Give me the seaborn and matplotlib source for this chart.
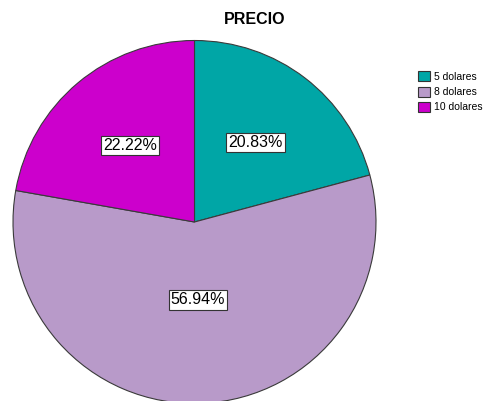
import numpy as np
import matplotlib.pyplot as plt
import matplotlib.patches as mpatches
import seaborn as sns

# Data
categories = ['5 dolares', '8 dolares', '10 dolares']
percentages = [20.83, 56.94, 22.22]
colors = ['#00A6A6', '#B89AC9', '#CC00CC']

sns.set_theme(style="white")
plt.rcParams['font.family'] = ['Liberation Sans', 'DejaVu Sans']
plt.rcParams['text.color'] = 'black'

W, H = 483, 401
fig = plt.figure(figsize=(W / 100, H / 100), dpi=100)

# pie axes placed in pixel space (pie is clipped slightly at the bottom)
cx, cy, r = 194.5, 222, 181.5
ax = fig.add_axes([(cx - r) / W, (H - cy - r) / H, 2 * r / W, 2 * r / H])
wedges, texts, autotexts = ax.pie(
    percentages, colors=colors, startangle=90, counterclock=False,
    autopct='%.2f%%', pctdistance=0.55,
    wedgeprops=dict(edgecolor='#3a3a3a', linewidth=0.8),
    textprops=dict(fontsize=11.5, color='black'))
ax.set_xlim(-1, 1)
ax.set_ylim(-1, 1)
ax.set_aspect('equal')
ax.axis('off')

for w, t, p in zip(wedges, autotexts, percentages):
    t.set_text(f'{p:.2f}%')
    if p > 50:
        mid = np.deg2rad((w.theta1 + w.theta2) / 2)
        t.set_position((0.43 * np.cos(mid), 0.43 * np.sin(mid)))
    t.set_bbox(dict(facecolor='white', edgecolor='#333333', linewidth=0.8, pad=1.5))

fig.text(255 / W, 1 - 20 / H, 'PRECIO', ha='center', va='center',
         fontsize=11.5, fontweight='bold', color='black')

handles = [mpatches.Patch(facecolor=c, edgecolor='#333333', linewidth=0.8, label=l)
           for c, l in zip(colors, categories)]
fig.legend(handles=handles, loc='upper left', bbox_to_anchor=(411 / W, 1 - 64 / H),
           frameon=False, fontsize=7.5, handlelength=1.1, handleheight=1.1,
           handletextpad=0.4, labelspacing=0.45, borderpad=0.2)

fig.savefig('out.png', dpi=100)
